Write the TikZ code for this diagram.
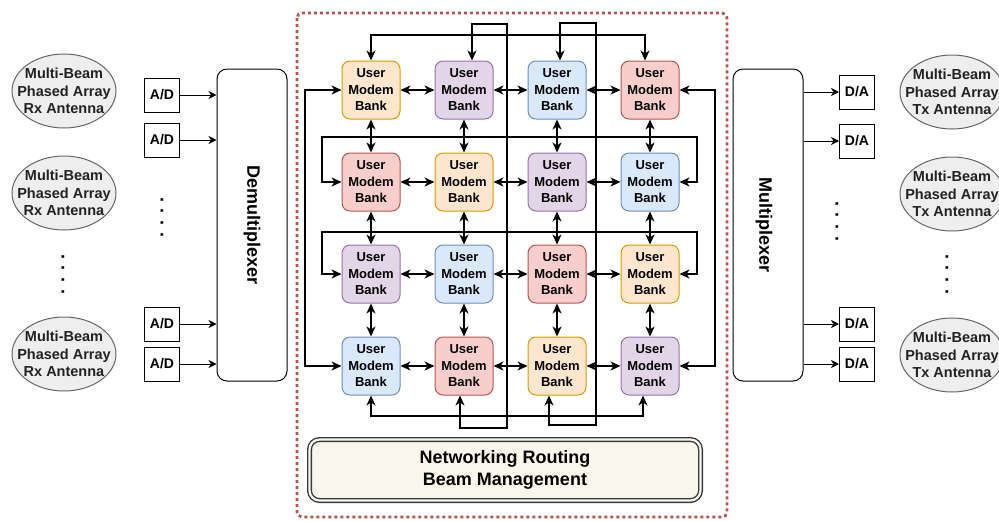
\documentclass[tikz,border=0pt]{standalone}
\usepackage{fontspec}
\setmainfont{Liberation Sans}
\usetikzlibrary{arrows.meta,shapes.geometric}
\definecolor{orangefill}{HTML}{FFE6CC}
\definecolor{orangeline}{HTML}{D79B00}
\definecolor{purplefill}{HTML}{E1D5E7}
\definecolor{purpleline}{HTML}{9673A6}
\definecolor{bluefill}{HTML}{DAE8FC}
\definecolor{blueline}{HTML}{6C8EBF}
\definecolor{redfill}{HTML}{F8CECC}
\definecolor{redline}{HTML}{B85450}
\definecolor{antfill}{HTML}{EEEEEE}
\definecolor{antline}{HTML}{666666}
\definecolor{anttext}{HTML}{222222}
\definecolor{netfill}{HTML}{F9F7ED}
\definecolor{netline}{HTML}{36393D}
\tikzset{
    bank/.style={rounded corners=8pt, minimum width=58pt, minimum height=58pt, inner sep=0pt,
        align=center, line width=1pt, font=\fontsize{13}{16.5}\selectfont\bfseries},
    orangebank/.style={bank, fill=orangefill, draw=orangeline},
    purplebank/.style={bank, fill=purplefill, draw=purpleline},
    bluebank/.style={bank, fill=bluefill, draw=blueline},
    redbank/.style={bank, fill=redfill, draw=redline},
    link/.style={line width=1.3pt, {Stealth[length=10pt,width=9pt,inset=3pt]}-{Stealth[length=10pt,width=9pt,inset=3pt]}},
    feed/.style={line width=1pt, -{Stealth[length=8pt,width=8pt,inset=2.5pt]}},
    conv/.style={draw, line width=1pt, minimum width=35pt, minimum height=34pt, inner sep=0pt,
        font=\fontsize{14}{16}\selectfont\bfseries},
    antenna/.style={ellipse, draw=antline, fill=antfill, line width=1pt, text=anttext, align=center,
        minimum width=104pt, minimum height=74pt, inner xsep=-12pt, inner ysep=0pt,
        font=\fontsize{14.5}{17.5}\selectfont\bfseries},
    plexer/.style={draw, rounded corners=10pt, line width=1pt, minimum width=70pt, minimum height=312pt},
    plexlabel/.style={rotate=-90, font=\fontsize{18}{20}\selectfont\bfseries},
    moredots/.style={rotate=-90, inner sep=0pt, font=\fontsize{18}{18}\selectfont\bfseries},
    netbox/.style={draw=netline, fill=netfill, double=netfill, double distance=2.2pt, line width=1.4pt,
        rounded corners=10pt, minimum width=391pt, minimum height=61pt, align=center,
        font=\fontsize{18}{21.5}\selectfont\bfseries},
}

\begin{document}
\begin{tikzpicture}[x=1pt,y=-1pt]
    \useasboundingbox (0,0) rectangle (999,520);
    % switching fabric frame
    \draw[redline, line width=2.8pt, dash pattern=on 3pt off 3pt, rounded corners=5pt] (297,13) rectangle (727,517);
    % receive side
    \foreach \y [count=\i] in {91,193,354} \node[antenna] (rx\i) at (64,\y) {Multi-Beam\\Phased Array\\Rx Antenna};
    \node[moredots] (rxdots) at (63,274) {. . . .};
    \foreach \y [count=\i] in {95,140,324,364} \node[conv] (ad\i) at (162,\y) {A/D};
    \node[moredots] (addots) at (162,217) {. . . .};
    \node[plexer] (demux) at (252,225) {};
    \node[plexlabel] (demuxlabel) at (demux) {Demultiplexer};
    \foreach \i in {1,...,4} \draw[feed] (ad\i) -- (ad\i -| demux.west);
    % transmit side
    \node[plexer] (mux) at (768,225) {};
    \node[plexlabel] (muxlabel) at (764,225) {Multiplexer};
    \foreach \y [count=\i] in {92,141,324,364} \node[conv] (da\i) at (857,\y) {D/A};
    \node[moredots] (dadots) at (837,221) {. . . .};
    \foreach \i in {1,...,4} \draw[feed] (da\i -| mux.east) -- (da\i);
    \foreach \y [count=\i] in {92,194,355} \node[antenna] (tx\i) at (952,\y) {Multi-Beam\\Phased Array\\Tx Antenna};
    \node[moredots] (txdots) at (947,274) {. . . .};
    % modem banks
    \foreach \st [count=\i from 0] in {orangebank,purplebank,bluebank,redbank, redbank,orangebank,purplebank,bluebank,
            purplebank,bluebank,redbank,orangebank, bluebank,redbank,orangebank,purplebank} {
        \pgfmathtruncatemacro\ri{div(\i,4)+1}
        \pgfmathtruncatemacro\ci{mod(\i,4)+1}
        \node[\st] (b\ri\ci) at ({371+93*(\ci-1)},{90+92*(\ri-1)}) {User\\Modem\\Bank};
    }
    \foreach \r in {1,...,4} \foreach \p/\q in {1/2,2/3,3/4} \draw[link] (b\r\p) -- (b\r\q);
    \foreach \cl in {1,...,4} \foreach \p/\q in {1/2,2/3,3/4} \draw[link] (b\p\cl) -- (b\q\cl);
    % wrap-around links
    \draw[link] (b11.north) -- (b11.north |- 0,35) -| ([xshift=-5pt]b14.north);
    \draw[link] ([xshift=8pt]b12.north) |- (507,24) -- (507,428) -| ([xshift=-4pt]b42.south);
    \draw[link] ([xshift=3pt]b13.north) |- (596,23) -- (596,425) -| ([xshift=-8pt]b43.south);
    \draw[link] (b41.south) -- (b41.south |- 0,416) -| ([xshift=-7pt]b44.south);
    \draw[link] (b11.west) -- (b11.west -| 305,0) |- (b41.west);
    \draw[link] (b14.east) -- (b14.east -| 715,0) |- (b44.east);
    \draw[link] (b21.west) -| (322,137) -| (697,182) -- (b24.east);
    \draw[link] (b31.west) -| (322,232) -| (697,274) -- (b34.east);
    % control
    \node[netbox] (net) at (505,470) {Networking Routing\\Beam Management};
\end{tikzpicture}
\end{document}
